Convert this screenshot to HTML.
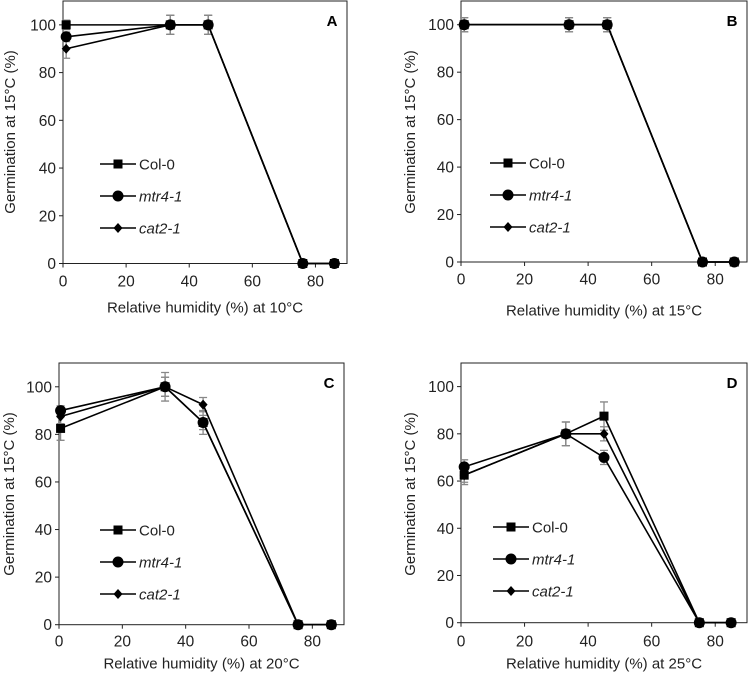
<!DOCTYPE html>
<html><head><meta charset="utf-8"><style>
body{margin:0;background:#fff;}
svg{display:block;font-family:"Liberation Sans",Arial,sans-serif;}
</style></head><body>
<svg id="chart" width="750" height="674" viewBox="0 0 750 674" xmlns="http://www.w3.org/2000/svg"></svg>
<script>
const seriesNames = ["Col-0", "mtr4-1", "cat2-1"];
const xTicks = [0, 20, 40, 60, 80];
const yTicks = [0, 20, 40, 60, 80, 100];
const panelLetters = ["A", "B", "C", "D"];
const panelTemps = ["10°C", "15°C", "20°C", "25°C"];
const xA = [1, 34, 46, 76, 86];
const colA = [100, 100, 100, 0, 0];
const mtrA = [95, 100, 100, 0, 0];
const catA = [90, 100, 100, 0, 0];
const errA = [[2, 4, 4, 0, 0], [2, 4, 4, 0, 0], [4, 4, 4, 0, 0]];
const xB = [1, 34, 46, 76, 86];
const colB = [100, 100, 100, 0, 0];
const mtrB = [100, 100, 100, 0, 0];
const catB = [100, 100, 100, 0, 0];
const errB = [[3, 3, 3, 0, 0], [3, 3, 3, 0, 0], [3, 3, 3, 0, 0]];
const xC = [0.5, 33.5, 45.5, 75.5, 86];
const colC = [82.5, 100, 85, 0, 0];
const mtrC = [90, 100, 85, 0, 0];
const catC = [87.5, 100, 92.5, 0, 0];
const errC = [[5, 6, 5, 0, 0], [2, 4, 3, 0, 0], [3, 4, 3, 0, 0]];
const xD = [1, 33, 45, 75, 85];
const colD = [62.5, 80, 87.5, 0, 0];
const mtrD = [66, 80, 70, 0, 0];
const catD = [62.5, 80, 80, 0, 0];
const errD = [[4, 5, 6, 0, 0], [3, 5, 3, 0, 0], [3, 5, 3, 0, 0]];

const NS = "http://www.w3.org/2000/svg";
const svg = document.getElementById("chart");
function mk(tag, attrs, parent, text) {
  const e = document.createElementNS(NS, tag);
  for (const k in attrs) e.setAttribute(k, attrs[k]);
  if (text !== undefined) e.textContent = text;
  (parent || svg).appendChild(e);
  return e;
}
const panels = [
  {l:63, r:347, t:1, b:263.5, xs:xA, ys:[colA, mtrA, catA], err:errA, lx:100, ly:164, yl:[10,132], tick:281, title:307},
  {l:461, r:747, t:1, b:262, xs:xB, ys:[colB, mtrB, catB], err:errB, lx:490, ly:163, yl:[410,132], tick:279, title:310},
  {l:59, r:344, t:363, b:624.7, xs:xC, ys:[colC, mtrC, catC], err:errC, lx:100, ly:530, yl:[9,494], tick:641, title:663},
  {l:461, r:747, t:363, b:622.7, xs:xD, ys:[colD, mtrD, catD], err:errD, lx:493, ly:527, yl:[410,494], tick:641, title:663}
];
function marker(g, kind, cx, cy) {
  let m;
  if (kind === 0) m = mk("rect", {x:cx-4.5, y:cy-4.5, width:9, height:9, fill:"#000"}, g);
  else if (kind === 1) m = mk("circle", {cx:cx, cy:cy, r:5.5, fill:"#000"}, g);
  else m = mk("polygon", {points:`${cx},${cy-5} ${cx+4.5},${cy} ${cx},${cy+5} ${cx-4.5},${cy}`, fill:"#000"}, g);
  return m;
}
panels.forEach((p, pi) => {
  const g = mk("g", {});
  
  
  const xS = v => p.l + (v / 90) * (p.r - p.l);
  const yS = v => p.b - (v / 110) * (p.b - p.t);
  const frame = mk("rect", {x:p.l, y:p.t, width:p.r-p.l, height:p.b-p.t, fill:"none", stroke:"#222", "stroke-width":1}, g);
  
  
  yTicks.forEach(t => {
    mk("line", {x1:p.l-4, x2:p.l, y1:yS(t), y2:yS(t), stroke:"#222"}, g);
    const tl = mk("text", {x:p.l-7, y:yS(t)+5.5, "text-anchor":"end", "font-size":15.5, fill:"#222"}, g, String(t));
    
    
  });
  xTicks.forEach(t => {
    mk("line", {x1:xS(t), x2:xS(t), y1:p.b, y2:p.b+4, stroke:"#222"}, g);
    const tl = mk("text", {x:xS(t), y:p.tick+5.5, "text-anchor":"middle", "font-size":15.5, fill:"#222"}, g, String(t));
    
    
  });
  const xt = mk("text", {x:(p.l+p.r)/2, y:p.title+5.5, "text-anchor":"middle", "font-size":15, fill:"#222"}, g, "Relative humidity (%) at " + panelTemps[pi]);
  
  
  const yt = mk("text", {x:0, y:0, "text-anchor":"middle", "font-size":15, fill:"#222", transform:`translate(${p.yl[0]+5},${p.yl[1]}) rotate(-90)`}, g, "Germination at 15°C (%)");
  
  
  const lt = mk("text", {x:p.r-15, y:p.t+25, "text-anchor":"middle", "font-size":15, "font-weight":"bold", fill:"#000"}, g, panelLetters[pi]);
  
  
  p.ys.forEach((ys, si) => {
    ys.forEach((v, i) => {
      const e = p.err[si][i];
      if (!e) return;
      const x = xS(p.xs[i]);
      const eb = mk("path", {d:`M${x},${yS(v+e)}V${yS(v-e)}M${x-4},${yS(v+e)}H${x+4}M${x-4},${yS(v-e)}H${x+4}`, stroke:"#888", "stroke-width":1.3, fill:"none"}, g);
      
      
    });
  });
  p.ys.forEach((ys, si) => {
    const d = ys.map((v, i) => (i ? "L" : "M") + xS(p.xs[i]) + "," + yS(v)).join("");
    const ln = mk("path", {d:d, stroke:"#000", "stroke-width":1.6, fill:"none"}, g);
    
    
    ys.forEach((v, i) => {
      const m = marker(g, si, xS(p.xs[i]), yS(v));
      
      
    });
  });
  seriesNames.forEach((n, si) => {
    const y = p.ly + si * 32;
    const lg = mk("g", {}, g);
    
    
    mk("line", {x1:p.lx, x2:p.lx+36, y1:y, y2:y, stroke:"#000", "stroke-width":1.6}, lg);
    marker(lg, si, p.lx+18, y);
    mk("text", {x:p.lx+39, y:y+5.5, "font-size":15, fill:"#222", "font-style": si ? "italic" : "normal"}, lg, n);
  });
});
</script>
</body></html>
